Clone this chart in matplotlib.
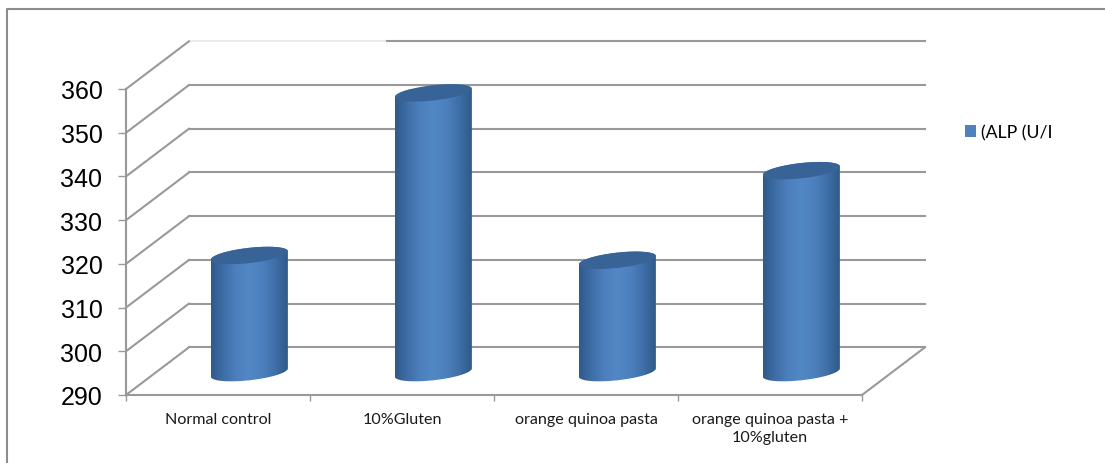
import matplotlib
matplotlib.use("Agg")
import matplotlib.pyplot as plt
import numpy as np
from matplotlib.colors import LinearSegmentedColormap
from matplotlib.patches import Patch, PathPatch
from matplotlib.path import Path

categories = ["Normal control", "10%Gluten", "orange quinoa pasta", "orange quinoa pasta +\n10%gluten"]
alp_values = [316.8, 354.0, 315.7, 336.2]
y_ticks = [290, 300, 310, 320, 330, 340, 350, 360]
series_name = "(ALP (U/I"

W, H = 1105, 464
DEPTH_X = 0.342
DEPTH_Y = 10.9
BAR_DEPTH = 0.47
BAR_HALF = 0.209
ELL_B = 1.75
ELL_TILT = 0.95
GRID = "#999999"

side_cmap = LinearSegmentedColormap.from_list(
    "cyl", ["#2f5a8a", "#3f6fa8", "#4d80bd", "#5287c6", "#4d80bd", "#3f6fa8", "#2f5a8a"])


def ellipse(cx, cy, t):
    x = cx + BAR_HALF * np.cos(t)
    y = cy + ELL_B * np.sin(t) + ELL_TILT * np.cos(t)
    return x, y


def draw_cylinder(ax, i, value):
    shift = BAR_DEPTH * DEPTH_Y
    cx = i + 0.5 + BAR_DEPTH * DEPTH_X + 0.01
    base = 290 + shift
    top = value + shift

    # body: front half of the base ellipse, then up to the top ellipse
    t_low = np.linspace(np.pi, 2 * np.pi, 60)
    t_up = np.linspace(0, np.pi, 60)
    xb, yb = ellipse(cx, base, t_low)
    xt, yt = ellipse(cx, top, t_up)
    verts = np.column_stack((np.r_[xb, xt], np.r_[yb, yt]))
    body = PathPatch(Path(np.vstack((verts, verts[0]))), fc="none", ec="none", transform=ax.transData)
    ax.add_patch(body)

    grad = np.linspace(0, 1, 128)[None, :]
    im = ax.imshow(grad, cmap=side_cmap, aspect="auto", zorder=3,
                   extent=(cx - BAR_HALF, cx + BAR_HALF, base - 5, top + 5))
    im.set_clip_path(body)

    t = np.linspace(0, 2 * np.pi, 120)
    xc, yc = ellipse(cx, top, t)
    ax.fill(xc, yc, color="#376397", lw=0, zorder=4, clip_on=False)


fig = plt.figure(figsize=(W / 100, H / 100), dpi=100)

# outer border: only the top and left edges are drawn
fig.add_artist(plt.Line2D([7 / W, 7 / W, 1], [0, 1 - 10 / H, 1 - 10 / H],
                          transform=fig.transFigure, color="#8c8c8c", lw=1.5))

ax = fig.add_axes([126 / W, 1 - 396 / H, 736 / W, 306 / H])
ax.set_xlim(0, 4)
ax.set_ylim(290, 360)

# back wall grid lines and the slanted lines on the side wall
for v in y_ticks:
    if v == y_ticks[-1]:
        ax.plot([DEPTH_X, 1.42], [v + DEPTH_Y] * 2, color="#e6e6e6", lw=1.2, clip_on=False, zorder=1)
        ax.plot([1.42, 4 + DEPTH_X], [v + DEPTH_Y] * 2, color=GRID, lw=1.5, clip_on=False, zorder=1)
    else:
        ax.plot([DEPTH_X, 4 + DEPTH_X], [v + DEPTH_Y] * 2, color=GRID, lw=1.5, clip_on=False, zorder=1)
    ax.plot([0, DEPTH_X], [v, v + DEPTH_Y], color=GRID, lw=1.5, clip_on=False, zorder=1)
ax.plot([4, 4 + DEPTH_X], [290, 290 + DEPTH_Y], color=GRID, lw=1.5, clip_on=False, zorder=1)

for i, value in enumerate(alp_values):
    draw_cylinder(ax, i, value)
ax.set_xlim(0, 4)
ax.set_ylim(290, 360)

for side in ["top", "right"]:
    ax.spines[side].set_visible(False)
for side in ["left", "bottom"]:
    ax.spines[side].set_color(GRID)
    ax.spines[side].set_linewidth(1.5)

ax.patch.set_alpha(0)
ax.set_yticks(y_ticks)
ax.set_xticks(range(5))
ax.set_xticklabels([])
ax.set_xticks(np.arange(4) + 0.5, minor=True)
ax.set_xticklabels(categories, minor=True, fontsize=11.6, family="Lato", color="#1a1a1a", linespacing=1.37)
ax.tick_params(axis="x", which="minor", length=0, pad=12.5)
ax.tick_params(axis="x", which="major", length=4, color=GRID, width=1)
ax.tick_params(axis="y", length=6, color=GRID, width=1, pad=11)
for lab in ax.get_yticklabels():
    lab.set_family("Liberation Sans")
    lab.set_fontsize(18)

handle = Patch(fc="#4f81bd", ec="none")
fig.legend(handles=[handle], labels=[series_name], loc="center left",
           bbox_to_anchor=(965 / W, 1 - 133 / H), frameon=False, handlelength=0.62, handleheight=0.62,
           handletextpad=0.28, borderpad=0, borderaxespad=0,
           prop={"family": "Lato", "size": 12.7})

fig.savefig("out.png", dpi=100)
